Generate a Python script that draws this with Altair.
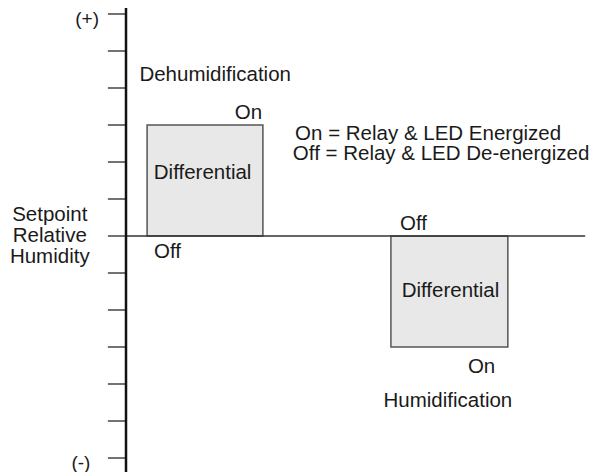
import altair as alt
import pandas as pd

# ---- data (units: y ticks = 1 step of relative humidity, x arbitrary units) ----
tick_values = [6, 5, 4, 3, 2, 1, 0, -1, -2, -3, -4, -5, -6]
axis_top, axis_bottom = 6.16, -6.38
tick_left = -0.49
line_end = 12.41

box_x1 = [0.57, 7.16]
box_x2 = [3.70, 10.32]
box_y1 = [0, 0]
box_y2 = [3, -3]

sign_text = ["(+)", "(-)"]
sign_x = [-1.05, -1.22]
sign_y = [5.89, -6.1]

label_text = ["Dehumidification", "On", "Differential", "Off",
              "Setpoint", "Relative", "Humidity",
              "Off", "Differential", "On", "Humidification"]
label_x = [2.41, 3.31, 2.07, 1.12,
           -2.06, -2.06, -2.06,
           7.77, 8.77, 9.61, 8.70]
label_y = [4.38, 3.35, 1.73, -0.41,
           0.59, 0.04, -0.53,
           0.35, -1.46, -3.51, -4.43]

legend_text = ["On = Relay & LED Energized", "Off = Relay & LED De-energized"]
legend_x = [4.57, 4.51]
legend_y = [2.78, 2.23]

# ---- scales ----
W, H = 581, 456
xs = alt.Scale(domain=[-110 / 37, (W - 110) / 37], nice=False, zero=False)
ys = alt.Scale(domain=[-(H - 220) / 37, 220 / 37], nice=False, zero=False)
FONT = "Liberation Sans"
FS = 20.5
TXT = "#1a1a1a"

boxes = pd.DataFrame({"x1": box_x1, "x2": box_x2, "y1": box_y1, "y2": box_y2})
ticks = pd.DataFrame({"v": tick_values, "x1": [tick_left] * len(tick_values),
                      "x2": [0] * len(tick_values)})
axis_df = pd.DataFrame({"x": [0], "y1": [axis_top], "y2": [axis_bottom]})
hline = pd.DataFrame({"x1": [0], "x2": [line_end], "y": [0]})
signs = pd.DataFrame({"t": sign_text, "x": sign_x, "y": sign_y})
labels = pd.DataFrame({"t": label_text, "x": label_x, "y": label_y})
legend = pd.DataFrame({"t": legend_text, "x": legend_x, "y": legend_y})

box_layer = alt.Chart(boxes).mark_rect(
    fill="#e8e8e8", stroke="#555555", strokeWidth=1.5
).encode(
    x=alt.X("x1:Q", scale=xs, axis=None), x2="x2:Q",
    y=alt.Y("y1:Q", scale=ys, axis=None), y2="y2:Q",
)

tick_layer = alt.Chart(ticks).mark_rule(color="#444444", strokeWidth=1.5).encode(
    x=alt.X("x1:Q", scale=xs, axis=None), x2="x2:Q",
    y=alt.Y("v:Q", scale=ys, axis=None),
)

hline_layer = alt.Chart(hline).mark_rule(color="#333333", strokeWidth=1.5).encode(
    x=alt.X("x1:Q", scale=xs, axis=None), x2="x2:Q",
    y=alt.Y("y:Q", scale=ys, axis=None),
)

axis_layer = alt.Chart(axis_df).mark_rule(color="#111111", strokeWidth=2.5).encode(
    x=alt.X("x:Q", scale=xs, axis=None),
    y=alt.Y("y1:Q", scale=ys, axis=None), y2="y2:Q",
)

sign_layer = alt.Chart(signs).mark_text(
    font=FONT, fontSize=19, color=TXT, align="center", baseline="middle", dy=1
).encode(
    x=alt.X("x:Q", scale=xs, axis=None),
    y=alt.Y("y:Q", scale=ys, axis=None),
    text="t:N",
)

label_layer = alt.Chart(labels).mark_text(
    font=FONT, fontSize=FS, color=TXT, align="center", baseline="middle", dy=1
).encode(
    x=alt.X("x:Q", scale=xs, axis=None),
    y=alt.Y("y:Q", scale=ys, axis=None),
    text="t:N",
)

legend_layer = alt.Chart(legend).mark_text(
    font=FONT, fontSize=FS, color=TXT, align="left", baseline="middle", dy=1
).encode(
    x=alt.X("x:Q", scale=xs, axis=None),
    y=alt.Y("y:Q", scale=ys, axis=None),
    text="t:N",
)

chart = alt.layer(
    box_layer, hline_layer, tick_layer, axis_layer, sign_layer, label_layer, legend_layer
).properties(
    width=W, height=H,
    padding={"left": 8, "top": 8, "right": 0, "bottom": 0},
    autosize=alt.AutoSizeParams(type="none"),
    background="white",
).configure_view(stroke=None)

chart.save("out.html", embed_options={"renderer": "svg", "actions": False})
